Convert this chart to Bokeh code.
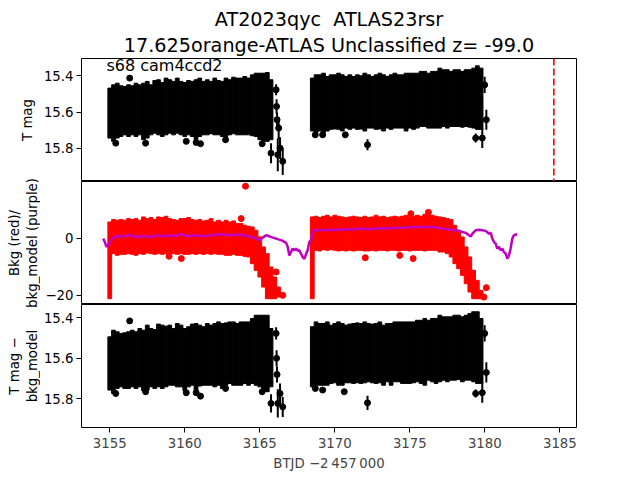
import numpy as np
from bokeh.plotting import figure
from bokeh.models import Range1d, FixedTicker, Span, Label, Title
from bokeh.layouts import column, row
from bokeh.embed import file_html
from bokeh.resources import INLINE

FONT = "DejaVu Sans"

# ---------------- data ----------------
title_line1 = "AT2023qyc \u00a0ATLAS23rsr"
title_line2 = "17.625orange-ATLAS Unclassified z= -99.0"
corner_text = "s68 cam4ccd2"
x_label = "BTJD \u22122\u2009457\u2009000"
y_labels = ["T mag", "Bkg (red)/\nbkg_model (purple)", "T mag \u2212\nbkg_model"]

x_ticks = [3155, 3160, 3165, 3170, 3175, 3180, 3185]
mag_ticks = [15.4, 15.6, 15.8]
bkg_ticks = [-20, 0]

bin_width = 0.25
bins_seg1 = np.arange(3155.0, 3165.76, 0.25)      # 44 bins, orbit 1
bins_seg2 = np.arange(3168.5, 3179.76, 0.25)      # 46 bins, orbit 2
bins_bkg1 = np.arange(3155.0, 3166.26, 0.25)      # 46 bins

# panel 1: T mag envelope (bright edge / faint edge) per time bin
tmag_seg1_top = [15.468, 15.450, 15.441, 15.455, 15.459, 15.450, 15.455, 15.441, 15.450, 15.441,
                 15.431, 15.450, 15.426, 15.422, 15.437, 15.413, 15.422, 15.431, 15.413, 15.431,
                 15.437, 15.426, 15.431, 15.422, 15.413, 15.431, 15.422, 15.431, 15.413, 15.426,
                 15.431, 15.413, 15.422, 15.408, 15.413, 15.413, 15.404, 15.413, 15.395, 15.386,
                 15.386, 15.386, 15.382, 15.422]
tmag_seg1_bot = [15.743, 15.761, 15.743, 15.734, 15.725, 15.734, 15.725, 15.734, 15.725, 15.752,
                 15.743, 15.725, 15.716, 15.725, 15.734, 15.725, 15.716, 15.725, 15.716, 15.725,
                 15.734, 15.725, 15.734, 15.752, 15.734, 15.725, 15.725, 15.719, 15.725, 15.725,
                 15.734, 15.734, 15.725, 15.719, 15.725, 15.725, 15.725, 15.725, 15.730, 15.734,
                 15.752, 15.761, 15.761, 15.752]
tmag_seg2_top = [15.413, 15.395, 15.395, 15.386, 15.404, 15.395, 15.395, 15.386, 15.395, 15.404,
                 15.395, 15.404, 15.395, 15.400, 15.386, 15.395, 15.404, 15.395, 15.386, 15.395,
                 15.404, 15.395, 15.386, 15.395, 15.395, 15.386, 15.386, 15.386, 15.386, 15.376,
                 15.376, 15.386, 15.376, 15.376, 15.358, 15.367, 15.367, 15.376, 15.367, 15.367,
                 15.376, 15.367, 15.367, 15.358, 15.345, 15.358]
tmag_seg2_bot = [15.704, 15.713, 15.704, 15.713, 15.704, 15.695, 15.693, 15.695, 15.704, 15.688,
                 15.695, 15.688, 15.695, 15.693, 15.704, 15.688, 15.688, 15.695, 15.693, 15.704,
                 15.688, 15.695, 15.688, 15.688, 15.688, 15.704, 15.688, 15.695, 15.688, 15.679,
                 15.679, 15.688, 15.688, 15.688, 15.688, 15.679, 15.688, 15.679, 15.679, 15.679,
                 15.683, 15.679, 15.683, 15.688, 15.695, 15.695]
# isolated points of panel 1: time, mag, error
tmag_out_t = [3156.33, 3155.40, 3157.39, 3160.10, 3160.76, 3161.05, 3162.72, 3165.16, 3165.75,
              3166.09, 3166.12, 3166.15, 3166.26, 3166.20, 3166.35, 3166.53,
              3168.70, 3169.19, 3170.70, 3172.18, 3179.39, 3179.83, 3179.99, 3180.10]
tmag_out_m = [15.413, 15.771, 15.771, 15.761, 15.767, 15.774, 15.752, 15.774, 15.826,
              15.477, 15.569, 15.642, 15.688, 15.835, 15.798, 15.871,
              15.725, 15.725, 15.725, 15.780, 15.743, 15.743, 15.450, 15.642]
tmag_out_e = [0.012, 0.012, 0.012, 0.012, 0.012, 0.012, 0.012, 0.015, 0.055,
              0.03, 0.04, 0.04, 0.06, 0.09, 0.06, 0.075,
              0.012, 0.012, 0.012, 0.03, 0.025, 0.055, 0.045, 0.055]

# panel 2: background envelope (red) and background model (purple)
bkg_seg1_top = [5.73, 6.55, 6.32, 6.55, 6.32, 6.90, 6.55, 6.90, 6.32, 7.49,
                6.90, 7.25, 6.55, 7.49, 7.25, 7.72, 6.90, 6.55, 6.32, 6.90,
                6.90, 7.25, 6.55, 6.32, 6.55, 6.08, 6.32, 6.90, 5.73, 6.32,
                5.73, 6.32, 5.73, 6.08, 5.15, 5.15, 4.56, 4.21, 3.98, 2.81,
                0.47, -3.04, -5.38, -10.06, -13.57, -17.08]
bkg_seg1_bot = [-21.17, -5.38, -5.96, -5.61, -5.61, -5.38, -5.61, -5.96, -5.38, -5.61,
                -5.15, -5.38, -5.61, -5.38, -5.61, -5.38, -5.38, -5.38, -5.61, -5.38,
                -5.61, -5.61, -5.38, -5.61, -5.38, -5.61, -5.38, -5.61, -5.38, -5.61,
                -5.61, -5.96, -5.96, -5.61, -5.96, -5.96, -6.32, -6.55, -8.89, -11.23,
                -13.57, -17.08, -21.17, -21.17, -21.17, -20.58]
bkg_seg2_top = [7.49, 7.72, 7.25, 7.72, 8.07, 7.49, 8.07, 7.72, 7.49, 7.25,
                7.49, 7.72, 7.49, 7.25, 7.72, 7.25, 7.49, 8.07, 7.49, 7.72,
                7.25, 7.49, 7.72, 7.49, 7.72, 8.07, 7.49, 7.72, 8.07, 7.72,
                8.42, 8.07, 8.07, 7.72, 7.49, 7.25, 6.90, 6.55, 4.56, 2.81,
                0.47, -3.04, -6.55, -11.23, -14.74, -18.25]
bkg_seg2_bot = [-21.17, -4.21, -4.44, -3.98, -4.21, -3.98, -4.21, -4.44, -4.21, -4.44,
                -4.21, -4.44, -4.21, -4.21, -4.44, -4.44, -4.21, -4.44, -4.21, -4.21,
                -4.44, -4.21, -4.21, -4.44, -4.21, -4.21, -4.44, -4.21, -4.21, -4.21,
                -4.44, -4.21, -4.21, -4.21, -4.80, -4.80, -5.38, -6.55, -8.89, -10.64,
                -12.98, -15.91, -18.83, -21.17, -21.17, -21.17]
bkg_out_t = [3164.05, 3163.76, 3158.95, 3159.77, 3166.09, 3166.53, 3172.03, 3174.33, 3175.22,
             3175.07, 3176.24, 3180.10, 3179.94]
bkg_out_v = [18.25, 6.9, -6.3, -7.1, -11.8, -20.0, -6.8, -6.0, -7.1, 8.6, 9.1, -17.3, -20.6]

model_t = [3154.56, 3154.67, 3154.78, 3154.89, 3155.00, 3155.22, 3155.44, 3155.89, 3156.33, 3156.77,
           3157.22, 3157.66, 3158.10, 3158.55, 3159.00, 3159.44, 3159.66, 3159.88, 3160.33, 3160.77,
           3161.21, 3161.66, 3162.10, 3162.54, 3162.99, 3163.43, 3163.88, 3164.30, 3164.76, 3164.98,
           3165.20, 3165.42, 3165.65, 3165.87, 3166.09, 3166.30, 3166.50, 3166.64, 3166.76, 3166.86,
           3166.97, 3167.08, 3167.19, 3167.30, 3167.42, 3167.53, 3167.64, 3167.75, 3167.86, 3167.97,
           3168.08, 3168.20, 3168.30, 3168.42, 3168.52, 3168.64, 3168.75, 3169.20, 3169.60, 3170.10,
           3170.70, 3171.20, 3171.80, 3172.30, 3172.90, 3173.40, 3174.00, 3174.50, 3175.00, 3175.40,
           3175.90, 3176.30, 3176.80, 3177.10, 3177.50, 3178.00, 3178.30, 3178.50, 3178.73, 3178.95,
           3179.07, 3179.17, 3179.39, 3179.61, 3179.83, 3180.06, 3180.28, 3180.40, 3180.50, 3180.61,
           3180.72, 3180.83, 3180.94, 3181.05, 3181.16, 3181.27, 3181.39, 3181.50, 3181.61, 3181.72,
           3181.83, 3181.94, 3182.16]
model_v = [-0.12, -1.29, -3.04, -2.46, -1.29, 0.23, 0.70, 0.70, 1.05, 0.47,
           0.82, 0.47, 0.94, 0.70, 1.05, 0.70, 1.64, 1.05, 0.82, 1.05,
           0.70, 0.94, 1.29, 1.40, 1.05, 1.29, 1.05, 0.70, -0.12, -0.70,
           0.23, 1.05, 0.70, 0.23, -0.12, -0.47, -0.80, -1.30, -1.60, -3.00,
           -6.00, -4.80, -3.60, -4.20, -3.60, -4.40, -4.20, -5.40, -6.60, -7.20,
           -5.60, -4.00, -1.30, -0.50, 1.90, 2.80, 2.80, 2.90, 3.00, 2.90,
           3.20, 3.10, 3.40, 3.20, 3.50, 3.40, 3.60, 3.70, 3.90, 4.00,
           3.90, 4.00, 3.80, 3.40, 3.20, 2.90, 2.60, 2.20, 1.90, 1.05,
           0.70, 1.60, 2.80, 3.00, 2.80, 2.60, 1.60, 1.90, -0.10, -1.30,
           -1.90, -3.60, -3.00, -4.20, -3.60, -4.80, -5.40, -7.10, -6.00, -3.60,
           -0.10, 1.05, 1.40]

# panel 3: T mag - bkg_model envelope
corr_seg1_top = [15.494, 15.461, 15.469, 15.477, 15.474, 15.469, 15.461, 15.469, 15.453, 15.461,
                 15.436, 15.453, 15.458, 15.431, 15.436, 15.441, 15.436, 15.453, 15.428, 15.436,
                 15.453, 15.444, 15.431, 15.428, 15.436, 15.444, 15.428, 15.436, 15.428, 15.420,
                 15.428, 15.425, 15.420, 15.420, 15.428, 15.420, 15.420, 15.420, 15.403, 15.387,
                 15.387, 15.387, 15.387, 15.453]
corr_seg1_bot = [15.757, 15.774, 15.749, 15.741, 15.749, 15.749, 15.741, 15.749, 15.741, 15.760,
                 15.757, 15.741, 15.749, 15.741, 15.749, 15.741, 15.733, 15.733, 15.741, 15.741,
                 15.760, 15.741, 15.733, 15.760, 15.737, 15.733, 15.733, 15.733, 15.741, 15.733,
                 15.749, 15.733, 15.724, 15.733, 15.733, 15.733, 15.724, 15.733, 15.724, 15.733,
                 15.741, 15.757, 15.765, 15.741]
corr_seg2_top = [15.444, 15.420, 15.428, 15.428, 15.420, 15.436, 15.428, 15.420, 15.428, 15.436,
                 15.431, 15.428, 15.425, 15.428, 15.420, 15.428, 15.431, 15.428, 15.420, 15.436,
                 15.428, 15.428, 15.420, 15.420, 15.420, 15.420, 15.420, 15.420, 15.412, 15.412,
                 15.403, 15.412, 15.403, 15.403, 15.387, 15.395, 15.395, 15.395, 15.387, 15.387,
                 15.395, 15.387, 15.379, 15.370, 15.370, 15.403]
corr_seg2_bot = [15.741, 15.733, 15.733, 15.733, 15.733, 15.724, 15.721, 15.733, 15.733, 15.721,
                 15.721, 15.724, 15.721, 15.724, 15.721, 15.716, 15.721, 15.724, 15.721, 15.733,
                 15.716, 15.733, 15.716, 15.716, 15.724, 15.724, 15.724, 15.721, 15.716, 15.724,
                 15.733, 15.708, 15.716, 15.724, 15.716, 15.708, 15.716, 15.708, 15.708, 15.705,
                 15.716, 15.708, 15.708, 15.716, 15.724, 15.724]
corr_out_t = [3156.33, 3155.40, 3157.39, 3160.10, 3160.76, 3161.05, 3162.72, 3165.16, 3165.75,
              3166.09, 3166.12, 3166.15, 3166.20, 3166.35, 3166.53,
              3168.70, 3169.19, 3170.63, 3172.18, 3179.39, 3179.83, 3179.99, 3180.10]
corr_out_m = [15.415, 15.774, 15.765, 15.770, 15.770, 15.787, 15.749, 15.765, 15.823,
              15.477, 15.600, 15.680, 15.823, 15.774, 15.840,
              15.749, 15.757, 15.765, 15.820, 15.774, 15.770, 15.477, 15.670]
corr_out_e = [0.012, 0.012, 0.012, 0.012, 0.012, 0.012, 0.012, 0.015, 0.045,
              0.03, 0.04, 0.04, 0.07, 0.05, 0.05,
              0.012, 0.012, 0.012, 0.035, 0.02, 0.05, 0.04, 0.05]

marker_x = 3184.6

# ---------------- figure ----------------
x_range = Range1d(3153.117, 3186.11)
LABEL_W = 40
LEFT, RIGHT = 40, 64
W = LEFT + 496 + RIGHT
H1, H2, H3 = 181, 123, 176
TICK_PX = "13.3px"


def style(p, ticks, overrides=None):
    p.grid.visible = False
    p.outline_line_color = "black"
    p.outline_line_alpha = 1.0
    p.outline_line_width = 1
    ax = p.yaxis[0]
    ax.ticker = FixedTicker(ticks=ticks)
    ax.minor_tick_line_color = None
    ax.major_tick_in = 0
    ax.major_tick_out = 5
    ax.major_label_standoff = 3
    ax.axis_line_color = None
    ax.major_label_text_font = FONT
    ax.major_label_text_font_size = TICK_PX
    ax.major_label_text_color = "black"
    if overrides:
        ax.major_label_overrides = overrides


def envelope(p, bins, low, high, color):
    b = np.asarray(bins)
    p.quad(left=b - bin_width / 2, right=b + bin_width / 2, bottom=low, top=high,
           fill_color=color, line_color=color, line_width=1)


def points(p, t, m, e, color):
    t = np.asarray(t); m = np.asarray(m); e = np.asarray(e)
    p.segment(x0=t, y0=m - e, x1=t, y1=m + e, line_color=color, line_width=2)
    p.scatter(t, m, size=6, fill_color=color, line_color=color)


# panel 1
p1 = figure(width=W, height=H1, x_range=x_range, y_range=Range1d(15.982, 15.305),
            output_backend="svg", toolbar_location=None, x_axis_location=None,
            title=None,
            min_border_left=LEFT, min_border_right=RIGHT, min_border_top=58, min_border_bottom=0)
p1.add_layout(Title(text=title_line2, align="center", text_font=FONT, text_font_size="19.2px",
                    text_font_style="normal", text_color="black", standoff=3), "above")
p1.add_layout(Title(text=title_line1, align="center", text_font=FONT, text_font_size="19.2px",
                    text_font_style="normal", text_color="black", standoff=0), "above")
style(p1, mag_ticks)
envelope(p1, bins_seg1, tmag_seg1_bot, tmag_seg1_top, "black")
envelope(p1, bins_seg2, tmag_seg2_bot, tmag_seg2_top, "black")
points(p1, tmag_out_t, tmag_out_m, tmag_out_e, "black")
p1.add_layout(Span(location=marker_x, dimension="height", line_color="red",
                   line_dash="7 3", line_width=1.6))
p1.add_layout(Label(x=3154.78, y=15.344, text=corner_text, text_font=FONT,
                    text_font_size="16px", text_baseline="alphabetic", text_align="left",
                    text_color="black"))

# panel 2
p2 = figure(width=W, height=H2, x_range=x_range, y_range=Range1d(-23.2, 19.9),
            output_backend="svg", toolbar_location=None, x_axis_location=None,
            min_border_left=LEFT, min_border_right=RIGHT, min_border_top=0, min_border_bottom=0)
style(p2, bkg_ticks, overrides={-20: "\u221220", 0: "0"})
envelope(p2, bins_bkg1, bkg_seg1_bot, bkg_seg1_top, "#ff0000")
envelope(p2, bins_seg2, bkg_seg2_bot, bkg_seg2_top, "#ff0000")
p2.scatter(bkg_out_t, bkg_out_v, size=6, fill_color="#ff0000", line_color="#ff0000")
p2.line(model_t, model_v, line_color="#bf00bf", line_width=2.5)

# panel 3
p3 = figure(width=W, height=H3, x_range=x_range, y_range=Range1d(15.942, 15.334),
            output_backend="svg", toolbar_location=None, x_axis_location="below",
            min_border_left=LEFT, min_border_right=RIGHT, min_border_top=0, min_border_bottom=53)
style(p3, mag_ticks)
envelope(p3, bins_seg1, corr_seg1_bot, corr_seg1_top, "black")
envelope(p3, bins_seg2, corr_seg2_bot, corr_seg2_top, "black")
points(p3, corr_out_t, corr_out_m, corr_out_e, "black")
xa = p3.xaxis[0]
xa.ticker = FixedTicker(ticks=x_ticks)
xa.minor_tick_line_color = None
xa.major_tick_in = 0
xa.major_tick_out = 5
xa.major_label_standoff = 5
xa.axis_line_color = None
xa.major_label_text_font = FONT
xa.major_label_text_font_size = TICK_PX
xa.axis_label = x_label
xa.axis_label_text_font = FONT
xa.axis_label_text_font_size = TICK_PX
xa.axis_label_text_font_style = "normal"
xa.axis_label_standoff = 5

# column of y-axis titles (may run past a panel's height, as in the original)
HT = H1 + H2 + H3
pl = figure(width=LABEL_W, height=HT, x_range=Range1d(0, LABEL_W), y_range=Range1d(0, HT),
            output_backend="svg", toolbar_location=None, x_axis_location=None,
            y_axis_location=None, min_border=0, outline_line_color=None)
pl.grid.visible = False
label_pos = [(26.5, HT - (58 + 181) / 2), (23.0, HT - (181 + 304) / 2), (23.0, HT - (304 + 427) / 2)]
for txt, (lx, ly) in zip(y_labels, label_pos):
    pl.add_layout(Label(x=lx, y=ly, text=txt, angle=np.pi / 2, text_align="center",
                        text_baseline="middle", text_font=FONT, text_font_size=TICK_PX,
                        text_color="black"))

layout = row(pl, column(p1, p2, p3, spacing=0), spacing=0)
open("out.html", "w").write(file_html(layout, INLINE))
